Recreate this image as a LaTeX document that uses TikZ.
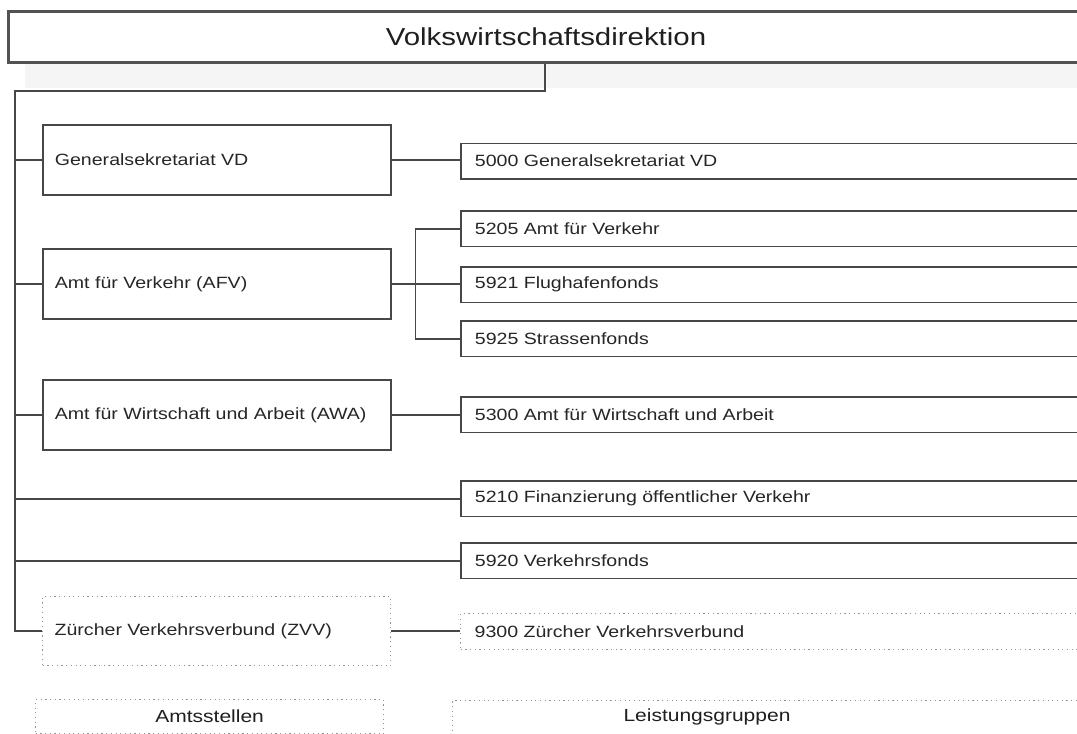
\documentclass[tikz,border=0pt]{standalone}
\usepackage{fontspec}
\newfontfamily\orgfont[FakeStretch=1.2]{Liberation Sans}
\begin{document}
\begin{tikzpicture}[x=1pt,y=-1pt,
  conn/.style={draw=black!72,line width=1.9pt},
  unitbox/.style={draw=black!72,line width=1.8pt,fill=white,anchor=north west,
    minimum height=70pt,text width=324pt,inner xsep=12pt,align=left,
    font=\orgfont\fontsize{16.3}{19}\selectfont,text=black!85},
  groupbox/.style={draw=black!72,line width=1.8pt,fill=white,anchor=north west,
    minimum height=35.5pt,text width=612pt,inner xsep=14pt,align=left,
    font=\orgfont\fontsize{16.3}{19}\selectfont,text=black!85},
  dotbox/.style={draw=black!42,line width=1.3pt,dash pattern=on 1.2pt off 3.5pt,
    solid conn/.style={}},
  legendbox/.style={draw=black!42,line width=1.3pt,dash pattern=on 1.2pt off 3.5pt,
    anchor=north west,minimum height=34pt,inner sep=0pt,
    font=\orgfont\fontsize{17.5}{20}\selectfont,text=black!88}
]
\clip (0,0) rectangle (1077,734);
\fill[white] (0,0) rectangle (1077,734);

% faint shadow band under the department header
\fill[black!4] (25,64) rectangle (1090,88);

% department header
\node[draw=black!68,line width=3pt,minimum width=1076pt,minimum height=51pt,inner sep=0pt,
  font=\orgfont\fontsize{24.5}{28}\selectfont,text=black!88] (vd) at (546,36.5) {Volkswirtschaftsdirektion};

% offices (left column)
\node[unitbox] (gs)  at (42,124) {Generalsekretariat VD};
\node[unitbox] (afv) at (42,248) {Amt für Verkehr (AFV)};
\node[unitbox] (awa) at (42,379) {Amt für Wirtschaft und Arbeit (AWA)};
\node[unitbox,draw=black!42,line width=1.3pt,dash pattern=on 1.2pt off 3.5pt,minimum height=69pt] (zvv) at (42,596) {Zürcher Verkehrsverbund (ZVV)};

% service groups (right column)
\node[groupbox] (g5000) at (460,142.5) {5000 Generalsekretariat VD};
\node[groupbox] (g5205) at (460,210)   {5205 Amt für Verkehr};
\node[groupbox] (g5921) at (460,266)   {5921 Flughafenfonds};
\node[groupbox] (g5925) at (460,320)   {5925 Strassenfonds};
\node[groupbox] (g5300) at (460,396)   {5300 Amt für Wirtschaft und Arbeit};
\node[groupbox] (g5210) at (460,480)   {5210 Finanzierung öffentlicher Verkehr};
\node[groupbox] (g5920) at (460,542)   {5920 Verkehrsfonds};
\node[groupbox,draw=black!42,line width=1.3pt,dash pattern=on 1.2pt off 3.5pt] (g9300) at (460,613) {9300 Zürcher Verkehrsverbund};

% column legends
\node[legendbox,minimum width=348pt] (amt) at (35,699) {Amtsstellen};
\node[legendbox,minimum width=650pt] (lg) at (452,700) {};
\node[font=\orgfont\fontsize{17.5}{20}\selectfont,text=black!88] (lgtext) at (707,717) {Leistungsgruppen};

% trunk from the header down the left side
\coordinate (trunk) at (15,91);
\coordinate (fork) at (415.5,283);
\draw[conn] (vd.south -| 545,0) |- (trunk) |- (zvv.west);
\draw[conn] (gs.west -| trunk) -- (gs.west);
\draw[conn] (afv.west -| trunk) -- (afv.west);
\draw[conn] (awa.west -| trunk) -- (awa.west);
\draw[conn] (g5210.west -| trunk) -- (g5210.west);
\draw[conn] (g5920.west -| trunk) -- (g5920.west);

% offices to their service groups
\draw[conn] (gs.east) -- (g5000.west |- gs.east);
\draw[conn] (afv.east) -- (g5921.west |- afv.east);
\draw[conn] (g5205.west) -- (g5205.west -| fork) -- (g5925.west -| fork) -- (g5925.west);
\draw[conn] (awa.east) -- (g5300.west |- awa.east);
\draw[conn] (zvv.east) -- (g9300.west |- zvv.east);
\end{tikzpicture}
\end{document}
